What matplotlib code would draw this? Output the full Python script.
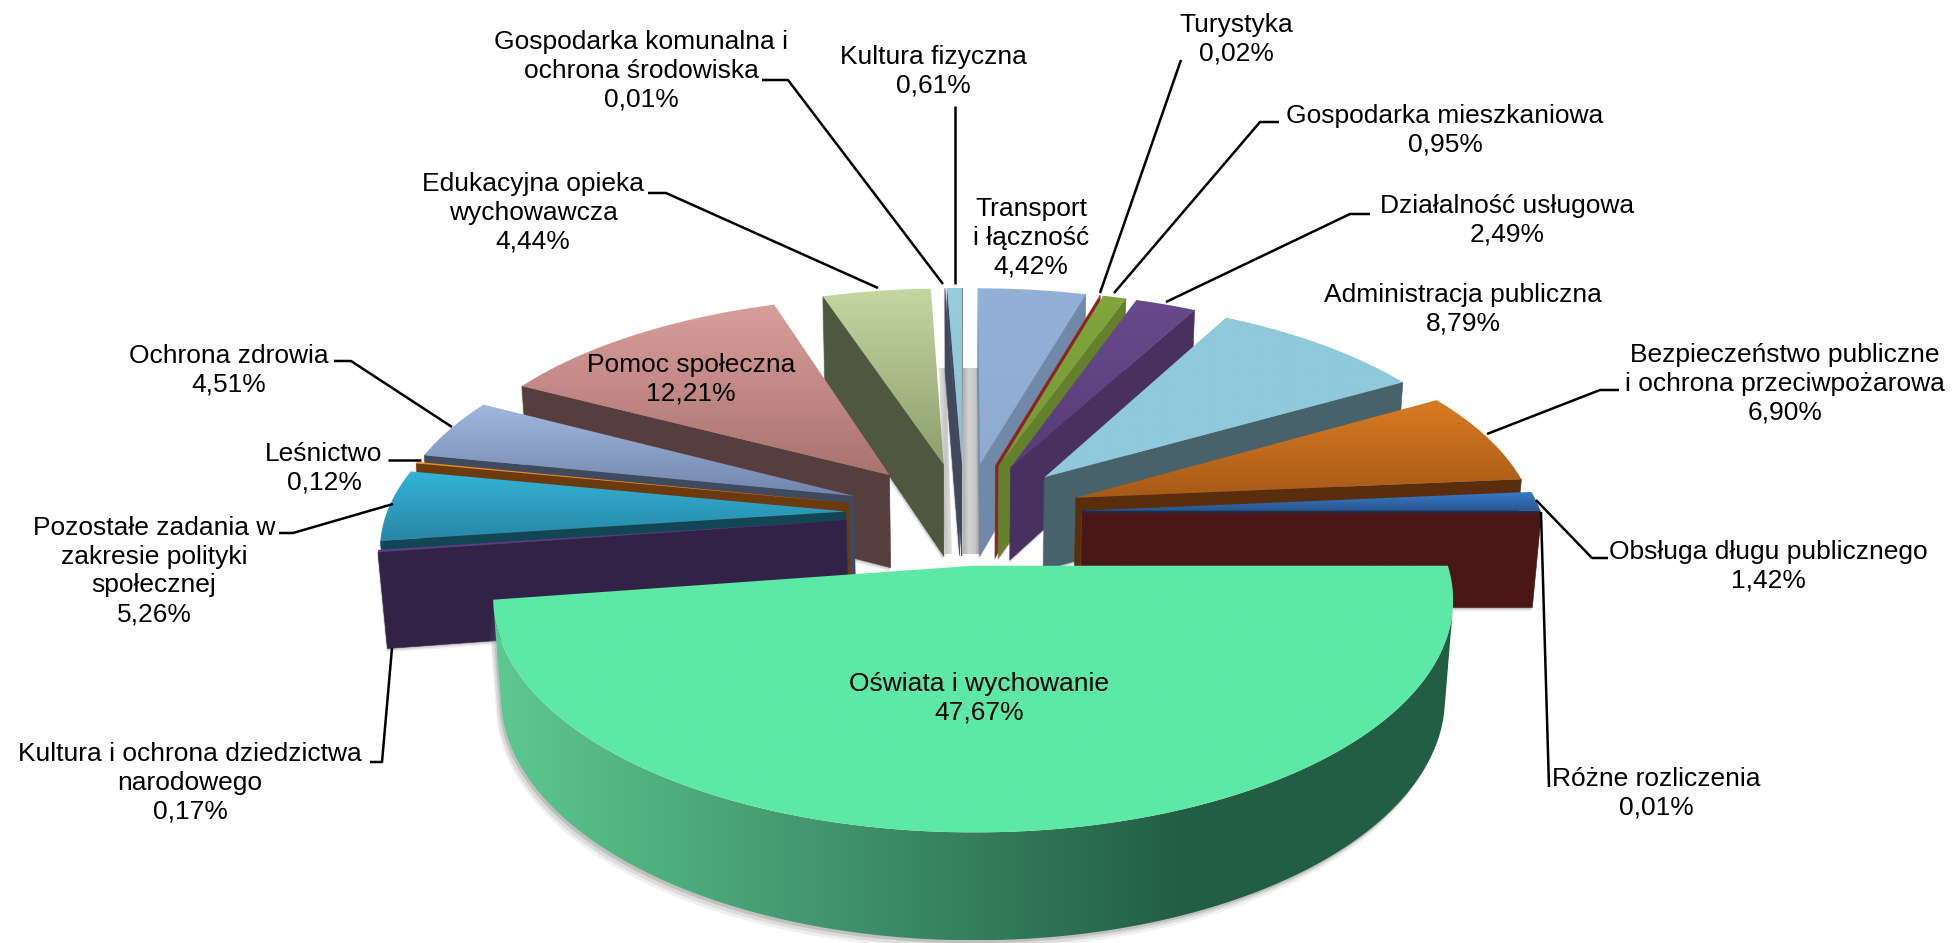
import matplotlib
matplotlib.use("Agg")
import matplotlib.pyplot as plt
import numpy as np
from matplotlib.colors import to_rgb
from matplotlib.patches import Polygon

plt.rcParams["font.family"] = ["Liberation Sans", "DejaVu Sans"]

# dane - kolejnosc zgodnie z ruchem wskazowek zegara od godziny 12
categories = ["Transport\ni łączność", "Turystyka", "Gospodarka mieszkaniowa", "Działalność usługowa",
              "Administracja publiczna", "Bezpieczeństwo publiczne\ni ochrona przeciwpożarowa",
              "Obsługa długu publicznego", "Różne rozliczenia", "Oświata i wychowanie",
              "Kultura i ochrona dziedzictwa\nnarodowego", "Pozostałe zadania w\nzakresie polityki\nspołecznej",
              "Leśnictwo", "Ochrona zdrowia", "Pomoc społeczna", "Edukacyjna opieka\nwychowawcza",
              "Gospodarka komunalna i\nochrona środowiska", "Kultura fizyczna"]
values = [4.42, 0.02, 0.95, 2.49, 8.79, 6.90, 1.42, 0.01, 47.67, 0.17, 5.26, 0.12, 4.51, 12.21, 4.44, 0.01, 0.61]

# kolory: gora gradientu, dol gradientu, sciana
top_from = ["#93B1D8", "#A0322E", "#80A63C", "#684A8C", "#90C9DB", "#DA7B22", "#3A7CC8", "#8A2020", "#5DE8A6",
            "#5F3A85", "#33B4D6", "#F08C20", "#A2B7DF", "#D89E9C", "#C4D6A2", "#8090A8", "#97CDDE"]
top_to = ["#8FABD0", "#9A2C2A", "#78983A", "#573C78", "#90C9DB", "#A65A18", "#28558C", "#8A2020", "#5DE8A6",
          "#5F3A85", "#2886A6", "#F08C20", "#7286AB", "#AB7370", "#8E9F6E", "#8090A8", "#8FC0D0"]
wall = ["#7089A8", "#8A2420", "#64802C", "#483060", "#47626B", "#5A2E0C", "#17305A", "#4A1616", "#225E44",
        "#322346", "#134654", "#6C3A0C", "#3F4A5E", "#573E3E", "#4F583F", "#40485C", "#40485C"]

# pozycje etykiet w pikselach obrazka
label_pos = [(1031, 238), (1236, 39), (1445, 130), (1507, 220), (1463, 309), (1785, 384), (1768, 566), (1656, 793),
             (979, 698), (190, 783), (154, 571), (324, 468), (229, 370), (691, 379), (533, 213), (641, 71), (933, 71)]
leaders = [[(762, 80), (788, 80), (943, 284)], [(955, 106), (955, 284)], [(1181, 60), (1100, 293)],
           [(1279, 122), (1260, 122), (1114, 293)], [(1370, 214), (1350, 214), (1166, 302)],
           [(1619, 390), (1600, 390), (1487, 434)], [(1608, 558), (1592, 558), (1536, 500)],
           [(1549, 787), (1541, 512)], [(370, 762), (382, 762), (392, 648)], [(279, 533), (293, 533), (393, 504)],
           [(388, 460), (421, 460)], [(334, 361), (351, 361), (452, 427)], [(648, 193), (666, 193), (878, 288)]]

# parametry rzutu perspektywicznego
cx, cy = 964, 513
scale_x, scale_y, scale_z = 459, 213, 96
persp_y, persp_z = 0.14, 0.016
explode_x, explode_y = 0.258, 0.24


def project(x, y, z=0.0):
    w = 1 / (1 + persp_y * y + persp_z * z)
    return cx + scale_x * x * w, cy - scale_y * y * w + scale_z * z * w


def area(pts):
    p = np.array(pts)
    q = np.roll(p, -1, axis=0)
    return np.sum(p[:, 0] * q[:, 1] - q[:, 0] * p[:, 1])


def grad_fill(ax, pts, stops, colors, z, horizontal=False):
    pts = np.array(pts)
    xa, ya = pts.min(axis=0)
    xb, yb = pts.max(axis=0)
    t = np.linspace(0, 1, 256)
    rgb = np.array([to_rgb(c) for c in colors])
    grad = np.stack([np.interp(t, stops, rgb[:, i]) for i in range(3)], axis=-1)
    img = grad[np.newaxis, :, :] if horizontal else grad[:, np.newaxis, :]
    im = ax.imshow(img, extent=(xa, max(xb, xa + 1), max(yb, ya + 1), ya), aspect="auto", zorder=z,
                   interpolation="bilinear")
    im.set_clip_path(Polygon(pts, closed=True, transform=ax.transData))


def shadow(ax, pts, z, big=False):
    # miekki cien jako kilka przesunietych kopii
    steps = ((-5, 9, 0.10), (-4, 6, 0.15), (-2, 3, 0.25)) if big else ((-1, 4, 0.10), (-1, 2.5, 0.16), (0, 1.2, 0.22))
    for dx, dy, al in steps:
        ax.add_patch(Polygon([(x + dx, y + dy) for x, y in pts], closed=True, facecolor="#707070",
                             edgecolor="none", alpha=al, zorder=z))


fig = plt.figure(figsize=(19.53, 9.43), dpi=100)
ax = fig.add_axes([0, 0, 1, 1])

edges = np.cumsum([0] + values) / sum(values) * 2 * np.pi
mids = (edges[:-1] + edges[1:]) / 2
# od tylu do przodu
order = np.argsort(-np.cos(mids))

# cienie w srodku wykresu miedzy waskimi czesciami
ax_band = project(explode_x * np.sin(mids[0]), explode_y * np.cos(mids[0]), 1.0)
grad_fill(ax, [(963, 368), (980, 368), (980, ax_band[1] - 2), (963, ax_band[1] - 2)], [0, 0.35, 0.7, 1],
          ["#B0B0B0", "#D4D4D4", "#C8C8C8", "#9C9C9C"], 2, horizontal=True)
grad_fill(ax, [(939, 368), (946, 368), (952, ax_band[1] - 2), (945, ax_band[1] - 2)], [0, 0.5, 1],
          ["#E4E4E4", "#C4C4C4", "#E4E4E4"], 2, horizontal=True)

for rank, i in enumerate(order):
    a0, a1 = edges[i], edges[i + 1]
    ox, oy = explode_x * np.sin(mids[i]), explode_y * np.cos(mids[i])
    z = 10 + rank * 6
    ang = np.linspace(a0, a1, max(4, int(np.degrees(a1 - a0))))
    rim_t = [project(ox + np.sin(a), oy + np.cos(a)) for a in ang]
    rim_b = [project(ox + np.sin(a), oy + np.cos(a), 1.0) for a in ang]
    apex_t = project(ox, oy)
    apex_b = project(ox, oy, 1.0)

    # sciany przekroju
    face0 = [apex_t, rim_t[0], rim_b[0], apex_b]
    face1 = [apex_t, rim_t[-1], rim_b[-1], apex_b]
    if area(face0) < 0:
        shadow(ax, face0, z - 1)
        ax.add_patch(Polygon(face0, closed=True, facecolor=wall[i], edgecolor=wall[i], lw=0.4, zorder=z))
    if area(face1) > 0:
        shadow(ax, face1, z - 1)
        ax.add_patch(Polygon(face1, closed=True, facecolor=wall[i], edgecolor=wall[i], lw=0.4, zorder=z + 1))

    # sciana zewnetrzna
    vis = [k for k in range(len(ang) - 1) if area([rim_t[k], rim_t[k + 1], rim_b[k + 1], rim_b[k]]) < 0]
    if vis:
        side = [rim_t[k] for k in range(vis[0], vis[-1] + 2)] + [rim_b[k] for k in range(vis[-1] + 1, vis[0] - 1, -1)]
        if values[i] > 40:
            shadow(ax, side, z + 1, big=True)
            grad_fill(ax, side, [0, 0.72, 1], ["#5EC892", wall[i], wall[i]], z + 2, horizontal=True)
        else:
            ax.add_patch(Polygon(side, closed=True, facecolor=wall[i], edgecolor=wall[i], lw=0.4, zorder=z + 2))

    # gorna powierzchnia
    top = [apex_t] + rim_t
    grad_fill(ax, top, [0, 1], [top_from[i], top_to[i]], z + 3)

# linie odniesienia
for pts in leaders:
    xs, ys = zip(*pts)
    ax.plot(xs, ys, color="black", lw=1.8, solid_capstyle="butt", zorder=200)

for name, val, (x, y) in zip(categories, values, label_pos):
    txt = name + "\n" + f"{val:.2f}".replace(".", ",") + "%"
    ax.text(x, y, txt, ha="center", va="center", fontsize=19, color="black", linespacing=1.26, zorder=210)

ax.set_xlim(0, 1953)
ax.set_ylim(943, 0)
ax.axis("off")
fig.savefig("out.png", dpi=100, facecolor="white")
